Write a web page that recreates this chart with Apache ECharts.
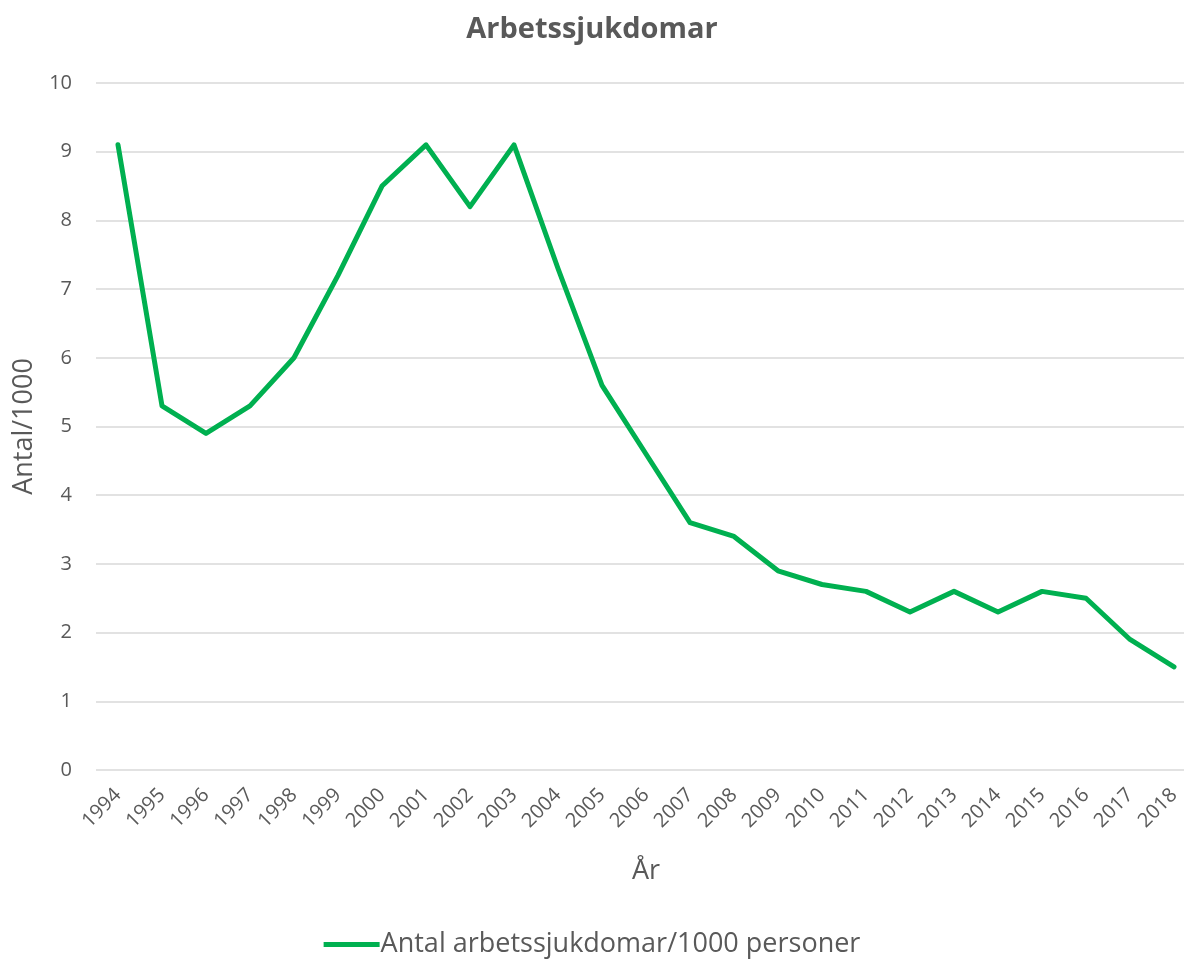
<!DOCTYPE html>
<html>
<head>
<meta charset="utf-8">
<script src="https://cdn.jsdelivr.net/npm/echarts@6/dist/echarts.min.js"></script>
<style>html,body{margin:0;padding:0;background:#fff}#c{width:1184px;height:963px}</style>
</head>
<body>
<div id="c"></div>
<script>
const years = ['1994','1995','1996','1997','1998','1999','2000','2001','2002','2003','2004','2005','2006','2007','2008','2009','2010','2011','2012','2013','2014','2015','2016','2017','2018'];
const values = [9.1,5.3,4.9,5.3,6.0,7.2,8.5,9.1,8.2,9.1,7.3,5.6,4.6,3.6,3.4,2.9,2.7,2.6,2.3,2.6,2.3,2.6,2.5,1.9,1.5];
const seriesName = 'Antal arbetssjukdomar/1000 personer';
const font = 'Open Sans';
const chart = echarts.init(document.getElementById('c'));
chart.setOption({
  animation: false,
  textStyle: {fontFamily: font},
  title: {text: 'Arbetssjukdomar', left: 'center', top: 10,
    textStyle: {fontFamily: font, fontSize: 29, fontWeight: 'bold', color: '#595959'}},
  legend: {bottom: 0, left: 'center', itemWidth: 56, itemHeight: 5, itemGap: 0,
    textStyle: {fontFamily: font, fontSize: 27, color: '#595959', padding: [0,0,0,-4]},
    data: [{name: seriesName, icon: 'path://M0,0 L56,0 L56,5 L0,5 Z'}]},
  grid: {left: 96, top: 83, width: 1100, height: 687, outerBoundsMode: 'none', containLabel: false},
  xAxis: {type: 'category', data: years, boundaryGap: true,
    name: 'År', nameLocation: 'middle', nameGap: 88,
    nameTextStyle: {fontFamily: font, fontSize: 27, color: '#595959'},
    axisLine: {show: false}, axisTick: {show: false},
    axisLabel: {rotate: 45, fontSize: 20, color: '#595959', margin: 22, interval: 0, fontFamily: font}},
  yAxis: {type: 'value', min: 0, max: 10, interval: 1,
    name: 'Antal/1000', nameLocation: 'middle', nameGap: 58,
    nameTextStyle: {fontFamily: font, fontSize: 27, color: '#595959'},
    axisLine: {show: false}, axisTick: {show: false},
    axisLabel: {fontSize: 20, color: '#595959', margin: 24, fontFamily: font},
    splitLine: {lineStyle: {color: '#d9d9d9', width: 1.5}}},
  series: [{name: seriesName, type: 'line', data: values, showSymbol: false, symbol: 'none',
    lineStyle: {color: '#00b050', width: 5, cap: 'round', join: 'round'},
    itemStyle: {color: '#00b050'}}]
});
</script>
</body>
</html>
